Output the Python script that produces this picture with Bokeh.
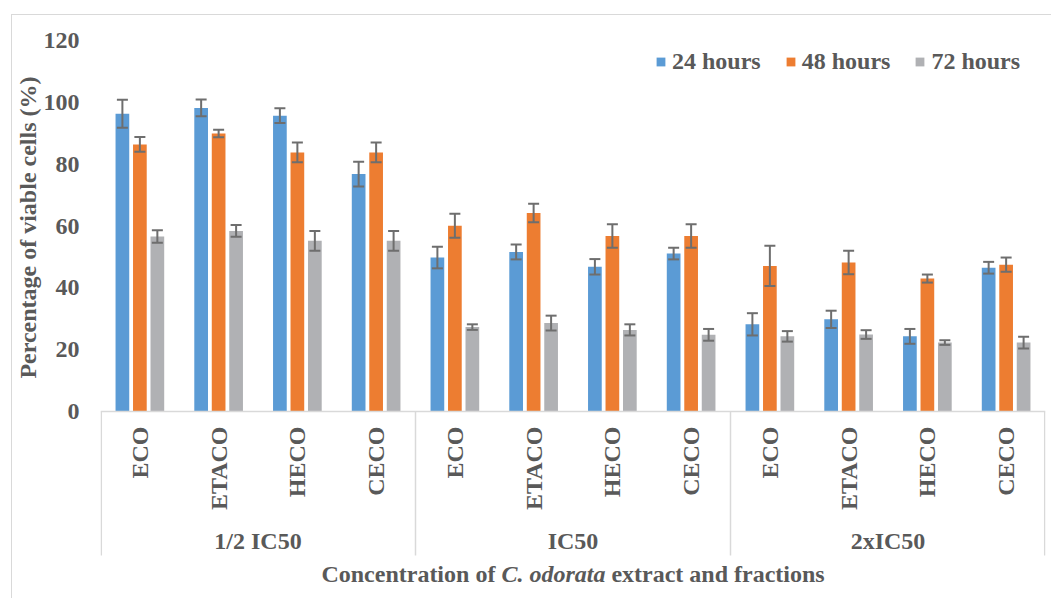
import math
from bokeh.plotting import figure
from bokeh.models import (FactorRange, Range1d, ColumnDataSource, Whisker, TeeHead,
                          Legend, LegendItem, FixedTicker, Span, Title)
from bokeh.core.properties import value
from bokeh.embed import file_html
from bokeh.resources import INLINE

# ---------------- data ----------------
concentrations = ["1/2 IC50", "IC50", "2xIC50"]
fractions = ["ECO", "ETACO", "HECO", "CECO"]
series_names = ["24 hours", "48 hours", "72 hours"]

h24 = [96.3, 98.2, 95.7, 76.8, 49.8, 51.6, 46.8, 51.1, 28.2, 29.8, 24.3, 46.5]
h24_err = [4.5, 2.7, 2.4, 4.0, 3.5, 2.4, 2.5, 1.9, 3.6, 2.8, 2.4, 1.9]
h48 = [86.4, 89.9, 83.8, 83.8, 60.1, 64.2, 56.8, 56.8, 47.1, 48.2, 43.0, 47.5]
h48_err = [2.4, 1.2, 3.2, 3.2, 3.9, 3.0, 3.8, 3.8, 6.5, 3.8, 1.3, 2.3]
h72 = [56.6, 58.4, 55.2, 55.2, 27.3, 28.6, 26.4, 24.8, 24.3, 24.9, 22.3, 22.3]
h72_err = [2.0, 1.9, 3.2, 3.2, 0.9, 2.4, 1.8, 1.9, 1.7, 1.4, 0.75, 1.9]
y_ticks = [0, 20, 40, 60, 80, 100, 120]

y_title = "Percentage of viable cells (%)"
x_title_parts = ["Concentration of", "C. odorata", "extract and fractions"]

# ---------------- style ----------------
colors = ["#5B9BD5", "#ED7D31", "#B0B1B4"]
text_color = "#595959"
axis_color = "#D9D9D9"
err_color = "#6E6E6E"
FONT = "Liberation Serif"
FS = "24px"

factors = [(c, f) for c in concentrations for f in fractions]

# layout (page pixels)
canvas_left, canvas_top = 12, 15      # after 11/14 px margin + 1 px border
frame_left, frame_top, frame_right = 100, 40, 1045
zero_px = 411
W, H = 1040, 584
frame_bottom = canvas_top + H
px_per_unit = (zero_px - frame_top) / 120.0
y_start = -(frame_bottom - zero_px) / px_per_unit

def px_to_data(py):
    return -(py - zero_px) / px_per_unit

p = figure(width=W, height=H, output_backend="svg", toolbar_location=None,
           x_range=FactorRange(*factors, group_padding=0, factor_padding=0, range_padding=0),
           y_range=Range1d(y_start, 120),
           min_border_left=frame_left - canvas_left, min_border_top=frame_top - canvas_top,
           min_border_right=canvas_left + W - frame_right, min_border_bottom=0)
p.styles = {"margin-left": "11px", "margin-top": "14px",
            "border-left": "1px solid #D9D9D9", "border-top": "1px solid #D9D9D9"}
p.outline_line_color = None
p.xgrid.visible = False
p.ygrid.visible = False
p.xaxis.visible = False

# y axis
yax = p.yaxis[0]
yax.ticker = FixedTicker(ticks=y_ticks)
yax.bounds = (0, 120)
yax.axis_line_color = None
yax.major_tick_line_color = None
yax.minor_tick_line_color = None
yax.major_tick_out = 0
yax.major_tick_in = 0
yax.major_label_standoff = 21
yax.major_label_text_font = FONT
yax.major_label_text_font_size = FS
yax.major_label_text_font_style = "bold"
yax.major_label_text_color = text_color

# y-axis title, placed over the 0-120 value span
p.add_layout(Title(text=y_title, align="right", offset=36, standoff=0,
                   text_font=FONT, text_font_size=FS, text_font_style="bold",
                   text_color=text_color), "left")

# bars + error bars
offsets = [-0.222, 0.0, 0.222]
vals = [h24, h48, h72]
errs = [h24_err, h48_err, h72_err]
items = []
for name, col, off, v, e in zip(series_names, colors, offsets, vals, errs):
    xs = [(c, f, off) for (c, f) in factors]
    src = ColumnDataSource(dict(x=xs, top=v,
                                upper=[a + b for a, b in zip(v, e)],
                                lower=[a - b for a, b in zip(v, e)]))
    r = p.vbar(x="x", top="top", bottom=0, width=0.174, source=src,
               fill_color=col, line_color=None)
    p.add_layout(Whisker(source=src, base="x", upper="upper", lower="lower",
                         level="overlay", line_color=err_color, line_width=2,
                         upper_head=TeeHead(size=11, line_color=err_color, line_width=2),
                         lower_head=TeeHead(size=11, line_color=err_color, line_width=2)))
    items.append(LegendItem(label=name, renderers=[r]))

# x axis line and category separators
p.add_layout(Span(location=0, dimension="width", line_color=axis_color, line_width=1.5))
sep_x = [(concentrations[0], fractions[0], -0.49)] + \
        [(c, fractions[0], -0.5) for c in concentrations[1:]] + \
        [(concentrations[-1], fractions[-1], 0.49)]
p.segment(x0=sep_x, x1=sep_x, y0=[0] * len(sep_x), y1=[px_to_data(555)] * len(sep_x),
          line_color=axis_color, line_width=1.5)

# category labels (vertical)
p.text(x=factors, y=[px_to_data(426)] * len(factors), text=[f for (_, f) in factors],
       angle=math.pi / 2, text_align="right", text_baseline="middle",
       text_font=value(FONT), text_font_size=FS, text_font_style="bold", text_color=text_color)

# group labels
p.text(x=[(c, fractions[1], 0.5) for c in concentrations], y=[px_to_data(540)] * 3,
       text=concentrations, text_align="center", text_baseline="middle",
       text_font=value(FONT), text_font_size=FS, text_font_style="bold", text_color=text_color)

# x-axis title with italic species name
mid = (concentrations[1], fractions[1], 0.5)
ty = px_to_data(573)
p.text(x=[mid], y=[ty], text=[x_title_parts[0]], x_offset=-251.6,
       text_align="left", text_baseline="middle",
       text_font=value(FONT), text_font_size=FS, text_font_style="bold", text_color=text_color)
p.text(x=[mid], y=[ty], text=[x_title_parts[1]], x_offset=-71.6,
       text_align="left", text_baseline="middle",
       text_font=value(FONT), text_font_size=FS, text_font_style="bold italic", text_color=text_color)
p.text(x=[mid], y=[ty], text=[x_title_parts[2]], x_offset=38.4,
       text_align="left", text_baseline="middle",
       text_font=value(FONT), text_font_size=FS, text_font_style="bold", text_color=text_color)

# legend
legend = Legend(items=items, orientation="horizontal",
                location=(655 - frame_left, frame_bottom - 75),
                glyph_width=11, glyph_height=11, label_standoff=6, spacing=24,
                padding=0, margin=0, border_line_color=None, background_fill_alpha=0,
                label_text_font=FONT, label_text_font_size=FS, label_text_font_style="bold",
                label_text_color=text_color)
p.add_layout(legend)

open("out.html", "w").write(file_html(p, INLINE))
